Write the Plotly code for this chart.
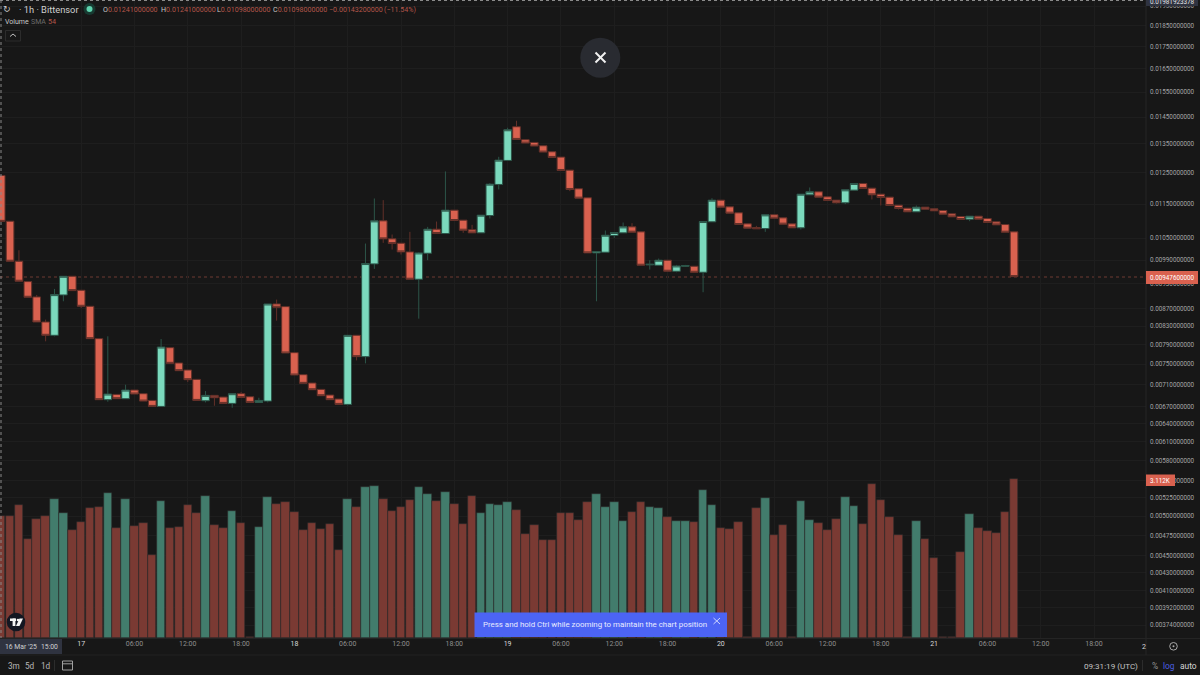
import math
import pandas as pd
import plotly.graph_objects as go

# Bittensor hourly candles, prices in millionths
start = "2025-03-16 15:00"
opens = [12410,10985,9872,9350,8975,8395,8102,9023,9484,9136,8754,8030,6823,6920,6841,7001,6933,6810,6702,7839,
         7525,7385,7203,6804,6902,6871,6756,6933,6877,6774,6798,8809,8746,7735,7294,7133,7013,6908,6835,6738,
         8102,7653,9802,10995,10479,10358,10121,9409,10085,10753,10629,11313,11015,10734,10648,11153,12116,12918,14133,13651,
         13554,13434,13220,13033,12588,11976,11692,10094,10112,10573,10648,10820,10677,9776,9767,9899,9612,9741,9741,9586,
         10966,11619,11414,11233,10907,10801,10772,11173,11083,10907,10791,11786,11881,11723,11619,11537,11934,12148,11997,11807,
         11713,11465,11373,11263,11404,11353,11303,11203,11123,11044,11133,11064,10966,10888,10677]
closes = [10980,9872,9359,8967,8395,8102,9031,9484,9128,8754,8030,6823,6927,6841,7001,6927,6798,6702,7853,7518,
          7372,7197,6810,6902,6859,6756,6933,6865,6774,6810,8809,8731,7728,7287,7127,7007,6896,6823,6738,8102,
          7653,9811,10995,10479,10349,10121,9409,10094,10753,10629,11313,11005,10724,10648,11163,12126,12929,14020,13663,13530,
          13422,13208,13022,12577,11955,11681,10094,10130,10582,10658,10820,10667,9767,9793,9899,9612,9750,9759,9586,10975,
          11619,11404,11223,10888,10782,10763,11173,11074,10898,10791,11807,11881,11713,11609,11537,11944,12148,11987,11786,11702,
          11455,11363,11263,11404,11343,11293,11193,11113,11034,11133,11044,10946,10878,10667,9476]
# Candles whose extremes reach past the body: index -> price
upper_wicks = {2:10166,4:9023,5:8448,6:9169,12:8080,14:7101,18:8023,23:6982,27:6964,29:6859,31:8911,41:10349,42:11671,
               43:11619,44:10601,46:10677,47:10112,48:10820,49:10975,50:12544,53:10878,55:12159,56:13045,57:14095,58:14361,
               68:10715,70:10946,71:10927,73:9899,74:9943,76:9776,77:9776,80:11681,85:10849,91:12019,103:11455}
lower_wicks = {5:7973,6:8080,7:8872,9:8715,12:6786,21:7152,23:6774,24:6714,26:6678,30:6774,31:8425,39:6720,40:7578,41:7517,
               42:9672,43:10368,44:10185,45:10050,47:8470,48:9899,52:10648,55:11064,56:11955,64:11902,67:8872,69:10507,
               73:9655,76:9586,77:9724,79:9088,86:10677,90:10743,94:11516,95:11496,98:11640,99:11455,101:11333,109:10985}
# Traded volume per candle, thousands
volumes = [2.38,2.38,2.60,1.94,2.33,2.39,2.72,2.44,2.11,2.26,2.53,2.55,2.82,2.14,2.72,2.18,2.25,1.61,2.67,2.14,
           2.16,2.60,2.43,2.78,2.20,2.15,2.48,2.24,0.01,2.16,2.76,2.62,2.65,2.46,2.11,2.24,2.13,2.23,1.71,2.72,
           2.55,2.94,2.96,2.72,2.48,2.56,2.70,2.94,2.80,2.68,2.85,2.62,2.22,2.77,2.44,2.62,2.59,2.65,2.50,2.02,
           2.20,1.92,1.92,2.44,2.43,2.31,2.66,2.80,2.55,2.65,2.29,2.46,2.65,2.55,2.54,2.36,2.29,2.28,2.26,2.89,
           2.59,2.15,2.13,2.26,0.01,2.54,2.74,2.01,2.20,0.01,2.68,2.30,2.24,2.11,2.33,2.76,2.57,2.22,3.00,2.70,
           2.36,2.00,0.01,2.28,1.94,1.57,0.01,0.01,1.68,2.42,2.14,2.08,2.05,2.46,3.112]
price_ticks = [0.0195,0.0185,0.0175,0.0165,0.0155,0.0145,0.0135,0.0125,0.0115,0.0105,0.0099,0.0093,0.0087,0.0083,0.0079,
               0.0075,0.0071,0.0067,0.0064,0.0061,0.0058,0.0055,0.00525,0.005,0.00475,0.0045,0.0043,0.0041,0.00392,0.00374]
last_price = 0.009476
crosshair_price = 0.01981923378
price_min, price_max = 0.003613, crosshair_price

GREEN, RED = "#7bd9bd", "#d9614f"
GREEN_WICK, RED_WICK = "#2c5549", "#633029"
GREEN_VOL, RED_VOL = "#427c6c", "#7a3a33"
BG = "#171717"
GRID = "#1e1e1e"
TEXT = "#b4b4b4"
FONT = "Roboto"

# Plot area of the price pane inside the figure
PANE_W, PANE_H = 1146, 638

times = pd.date_range(start, periods=len(opens), freq="h")
scale = 1e-6
high = [upper_wicks.get(i, max(o, c)) * scale for i, (o, c) in enumerate(zip(opens, closes))]
low = [lower_wicks.get(i, min(o, c)) * scale for i, (o, c) in enumerate(zip(opens, closes))]
vol_colors = [GREEN_VOL if c >= o else RED_VOL for o, c in zip(opens, closes)]

fig = go.Figure()
fig.add_trace(go.Bar(x=times, y=volumes, yaxis="y2", width=3600000 * 0.96, marker=dict(
    color=vol_colors, line=dict(color="#2a2a2a", width=0.6)), showlegend=False))
fig.add_trace(go.Candlestick(
    x=times, open=[v * scale for v in opens], high=high, low=low, close=[v * scale for v in closes],
    increasing=dict(fillcolor=GREEN, line=dict(color=GREEN_WICK, width=1)),
    decreasing=dict(fillcolor=RED, line=dict(color=RED_WICK, width=1)),
    showlegend=False))

# Six-hourly time ticks, day numbers brighter than the hours
tick_times = pd.date_range("2025-03-17 00:00", "2025-03-21 18:00", freq="6h")
tick_text = [f'<span style="color:#d8d8d8">{t.day}</span>' if t.hour == 0 else t.strftime("%H:%M") for t in tick_times]


def X(px):
    return px / PANE_W


def Y(py):
    return 1 - py / PANE_H


shapes, notes = [], []


def rect(x0, y0, x1, y1, fill, line=None):
    shapes.append(dict(type="rect", xref="paper", yref="paper", x0=X(x0), x1=X(x1), y0=Y(y1), y1=Y(y0),
                       fillcolor=fill, line=dict(color=line or fill, width=1 if line else 0)))


def seg(x0, y0, x1, y1, color, width=1, dash="solid", layer="above"):
    shapes.append(dict(type="line", xref="paper", yref="paper", x0=X(x0), x1=X(x1), y0=Y(y0), y1=Y(y1),
                       layer=layer, line=dict(color=color, width=width, dash=dash)))


def circle(cx, cy, r, fill, line=None, width=1):
    shapes.append(dict(type="circle", xref="paper", yref="paper", x0=X(cx - r), x1=X(cx + r), y0=Y(cy + r), y1=Y(cy - r),
                       fillcolor=fill, line=dict(color=line or fill, width=width if line else 0)))


def poly(points, fill):
    d = "M " + " L ".join(f"{X(a)},{Y(b)}" for a, b in points) + " Z"
    shapes.append(dict(type="path", xref="paper", yref="paper", path=d, fillcolor=fill, line=dict(width=0)))


def text(px, py, s, size=7.5, color=TEXT, anchor="left", family=FONT):
    notes.append(dict(xref="paper", yref="paper", x=X(px), y=Y(py), text=s, showarrow=False, xanchor=anchor,
                      yanchor="middle", borderpad=0, borderwidth=0, font=dict(family=family, size=size, color=color)))


# Frame lines around the price and time scales
seg(1146, 0, 1146, 655, "#262626")
seg(0, 638.6, 1200, 638.6, "#262626")
seg(0, 655, 1200, 655, "#222222")
seg(54.5, 660, 54.5, 671, "#2c2c2c")
seg(1142.5, 660, 1142.5, 671, "#2c2c2c")

# Crosshair and last-price guides
seg(0, 0.5, 1146, 0.5, "#8a8a8a", 1, "dot")
seg(1, 0, 1, 638, "#8a8a8a", 1, "dot")
seg(0, 277, 1146, 277, "#6e3a33", 1, "dot", layer="below")

# Scale labels
rect(1146, 0, 1198, 6, "#2f3340")
text(1150, 2, f"{crosshair_price:.11f}", 6.3, "#e6e6e6")
rect(1146, 271, 1198, 284, RED)
text(1150, 277.5, f"{last_price:.11f}", 6.3, "#ffffff")
rect(1146, 474.5, 1175, 486, RED)
text(1150, 480.5, f"{volumes[-1]:.3f}K", 6.3, "#ffffff")
rect(0, 639, 62, 654, "#2f3340")
text(5, 646.5, "16 Mar '25", 6.8, "#d0d0d0")
text(41, 646.5, "15:00", 6.8, "#d0d0d0")
text(1143.5, 646.5, "2", 7, "#d8d8d8", "center")

# Header legend
text(3, 9.5, "↻", 9, "#c8c8c8", family="DejaVu Sans")
text(19, 9, "· 1h · Bittensor", 9.3, "#cfcfcf")
circle(89.5, 9, 6, "#173a31")
circle(89.5, 9, 3, "#5fd3ae")
for px, label, value in [(103, "O", "0.01241000000"), (160.7, "H", "0.01241000000"),
                         (216.7, "L", "0.01098000000"), (273, "C", "0.01098000000")]:
    text(px, 9, f'<span style="color:#c8c8c8">{label}</span>{value}', 7.1, "#b4564a")
text(329, 9, "−0.00143200000", 7.1, "#b4564a")
text(384, 9, "(−11.54%)", 7.1, "#b4564a")
text(5, 22, "Volume", 7, "#c8c8c8")
text(31, 22, "SMA", 7, "#6c6c6c")
text(48, 22, "54", 7.2, "#b4564a")
rect(5.5, 30.5, 20.5, 41, BG, "#2c2c2c")
seg(10, 36.5, 13, 34, "#c0c0c0")
seg(13, 34, 16, 36.5, "#c0c0c0")

# Close button
circle(600.3, 57.7, 20, "#292b31")
seg(595.5, 52.5, 605.5, 62.5, "#f2f2f2", 2)
seg(595.5, 62.5, 605.5, 52.5, "#f2f2f2", 2)

# Zoom hint toast
rect(474.5, 612.5, 727, 637, "#4c64f4")
text(483, 624.5, "Press and hold Ctrl while zooming to maintain the chart position", 7.9, "#e8ebff")
seg(713.5, 618, 720, 624, "#cfd6ff")
seg(713.5, 624, 720, 618, "#cfd6ff")

# Logo badge
circle(16, 622, 9.3, "#131722")
rect(10, 618.5, 16, 621, "#f4f4f4")
rect(12.6, 618.5, 15.4, 626, "#f4f4f4")
circle(18, 620, 1.3, "#f4f4f4")
poly([(19.5, 618.5), (23, 618.5), (19.5, 626), (16, 626)], "#f4f4f4")

# Bottom toolbar
text(8, 665.5, "3m", 8.2, "#b8b8b8")
text(25, 665.5, "5d", 8.2, "#b8b8b8")
text(40.5, 665.5, "1d", 8.2, "#b8b8b8")
rect(62.5, 661, 72.5, 670, BG, "#a0a0a0")
seg(62.5, 663.8, 72.5, 663.8, "#a0a0a0")
text(1084, 665.5, "09:31:19 (UTC)", 8.1, "#c4c4c4")
text(1152, 665.5, "%", 8.4, "#9a9a9a")
text(1163, 665.5, "log", 8.4, "#4a5fe0")
text(1180, 665.5, "auto", 8.4, "#d8d8d8")
circle(1173.5, 646.3, 3.8, BG, "#a8a8a8")
circle(1173.5, 646.3, 1, "#a8a8a8")

fig.update_layout(
    width=1200, height=675, paper_bgcolor=BG, plot_bgcolor=BG,
    margin=dict(l=0, r=54, t=0, b=37),
    font=dict(family=FONT, size=7, color=TEXT),
    boxgap=0.14, boxgroupgap=0, bargap=0,
    xaxis=dict(type="date", range=["2025-03-16 14:52", "2025-03-21 23:51"], rangeslider=dict(visible=False),
               tickmode="array", tickvals=list(tick_times), ticktext=tick_text, tickangle=0,
               gridcolor=GRID, gridwidth=1, showline=False, zeroline=False, ticks="",
               tickfont=dict(family=FONT, size=7, color="#8f8f8f")),
    yaxis=dict(type="log", side="right", range=[math.log10(price_min), math.log10(price_max)],
               tickmode="array", tickvals=price_ticks, ticktext=[f"{v:.11f}" for v in price_ticks],
               ticklabelstandoff=3,
               gridcolor=GRID, gridwidth=1, showline=False, zeroline=False, ticks="",
               tickfont=dict(family=FONT, size=6.3, color="#a6a6a6")),
    yaxis2=dict(overlaying="y", side="left", range=[0, 12.448], visible=False, showgrid=False),
    shapes=shapes, annotations=notes,
)
fig.write_html("out.html")
